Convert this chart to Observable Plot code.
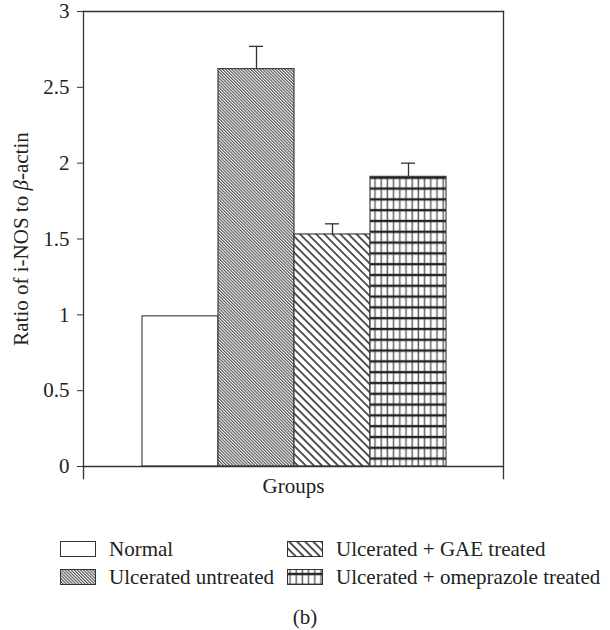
<!DOCTYPE html>
<html><head><meta charset="utf-8">
<script src="https://cdn.jsdelivr.net/npm/d3@7"></script>
<script src="https://cdn.jsdelivr.net/npm/@observablehq/plot@0.6"></script>
<style>
body{margin:0;background:#fff;font-family:"Liberation Serif",serif;color:#222;}
#legend{display:grid;grid-template-columns:227px auto;grid-template-rows:28px 28px;grid-auto-flow:column;margin:25px 0 0 60px;}
.item{display:flex;align-items:center;height:28px;font-size:21px;white-space:nowrap;}
.item svg{margin-right:13px;flex:none;}
#cap{text-align:center;font-size:21px;margin-top:12px;line-height:28px;}
</style></head><body>
<svg width="0" height="0" style="position:absolute">
 <defs>
  <pattern id="pat-untreated" patternUnits="userSpaceOnUse" width="2.2" height="2.2" patternTransform="rotate(-45)">
   <rect width="2.2" height="2.2" fill="white"/>
   <line x1="0.6" y1="0" x2="0.6" y2="2.2" stroke="#3a3a3a" stroke-width="1"/>
  </pattern>
  <pattern id="pat-gae" patternUnits="userSpaceOnUse" width="5.7" height="5.7" patternTransform="rotate(-45)">
   <rect width="5.7" height="5.7" fill="white"/>
   <line x1="1" y1="0" x2="1" y2="5.7" stroke="#111" stroke-width="1.4"/>
  </pattern>
  <pattern id="pat-ome" patternUnits="userSpaceOnUse" width="6.2" height="10.8">
   <rect width="6.2" height="10.8" fill="white"/>
   <line x1="3" y1="0" x2="3" y2="10.8" stroke="#666" stroke-width="1.5"/>
   <line x1="0" y1="5" x2="6.2" y2="5" stroke="#222" stroke-width="2.4"/>
  </pattern>
 </defs>
</svg>
<div id="chart"></div>
<div id="legend"></div>
<div id="cap"></div>
<script>
// ---- data ----
const groups = ["Normal", "Ulcerated untreated", "Ulcerated + GAE treated", "Ulcerated + omeprazole treated"];
const values = [0.99, 2.62, 1.53, 1.91];
const errors = [null, 0.15, 0.07, 0.09];
const yTicks = [0, 0.5, 1, 1.5, 2, 2.5, 3];
const yLabelParts = ["Ratio of i-NOS to ", "β", "-actin"];
const xLabel = "Groups";
const caption = "(b)";
const legendOrder = ["Normal", "Ulcerated untreated", "Ulcerated + GAE treated", "Ulcerated + omeprazole treated"];

// ---- styles ----
const fillOf = {
  "Normal": "white",
  "Ulcerated untreated": "url(#pat-untreated)",
  "Ulcerated + GAE treated": "url(#pat-gae)",
  "Ulcerated + omeprazole treated": "url(#pat-ome)"
};
const ink = "#333";

const data = groups.map((g, i) => ({group: g, value: values[i], err: errors[i], fill: fillOf[g]}));
const errData = data.filter(d => d.err != null);

const chart = Plot.plot({
  width: 610,
  height: 510,
  marginLeft: 83,
  marginRight: 107,
  marginTop: 11,
  marginBottom: 44,
  style: {fontFamily: "Liberation Serif, serif", fontSize: "21px", color: "#222", background: "white"},
  x: {type: "band", domain: groups, paddingInner: 0, paddingOuter: 0.736, align: 0.51, axis: null},
  y: {domain: [0, 3]},
  color: {type: "identity"},
  marks: [
    Plot.barY(data, {x: "group", y: "value", fill: "fill", stroke: ink, strokeWidth: 1.1}),
    Plot.ruleX(errData, {x: "group", y1: "value", y2: d => d.value + d.err, stroke: ink, strokeWidth: 1.3}),
    Plot.tickY(errData, {x: "group", y: d => d.value + d.err, stroke: ink, strokeWidth: 1.3, insetLeft: 31, insetRight: 31}),
    Plot.frame({anchor: "top", stroke: ink, strokeWidth: 1.3}),
    Plot.frame({anchor: "bottom", stroke: ink, strokeWidth: 1.3}),
    Plot.frame({anchor: "left", stroke: ink, strokeWidth: 1.3, insetBottom: -12}),
    Plot.frame({anchor: "right", stroke: ink, strokeWidth: 1.3, insetBottom: -12}),
    Plot.axisY({ticks: yTicks, tickFormat: d => String(d), tickSize: 6, tickPadding: 8, stroke: ink,
      label: yLabelParts.join(""), labelAnchor: "center", labelOffset: 70, labelArrow: "none"}),
    Plot.text([xLabel], {frameAnchor: "bottom", dy: 26, fontSize: 21})
  ]
});
document.getElementById("chart").appendChild(chart);

// italic beta in the y label
const lab = chart.querySelector('[aria-label="y-axis label"] text');
if (lab) {
  lab.textContent = "";
  yLabelParts.forEach((p, i) => {
    const t = document.createElementNS("http://www.w3.org/2000/svg", "tspan");
    t.textContent = p;
    if (i === 1) t.setAttribute("font-style", "italic");
    lab.appendChild(t);
  });
}

// legend
const leg = document.getElementById("legend");
legendOrder.forEach(g => {
  const item = document.createElement("div");
  item.className = "item";
  item.innerHTML = `<svg width="36" height="16"><rect x="0.5" y="0.5" width="35" height="15" fill="${fillOf[g]}" stroke="${ink}" stroke-width="1"/></svg><span>${g}</span>`;
  leg.appendChild(item);
});
document.getElementById("cap").textContent = caption;
</script>
</body></html>
